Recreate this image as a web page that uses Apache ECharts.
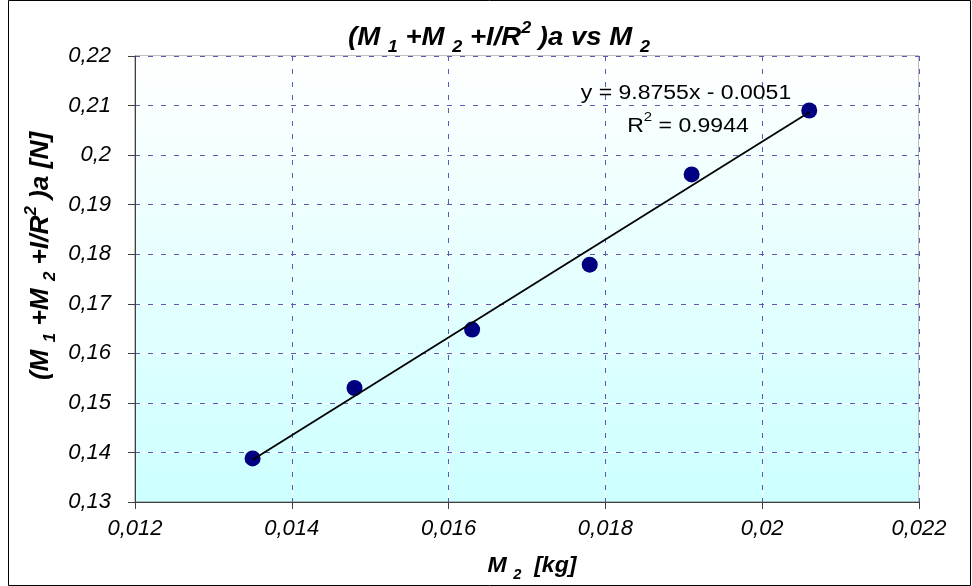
<!DOCTYPE html>
<html><head><meta charset="utf-8">
<script src="https://cdn.jsdelivr.net/npm/echarts@6/dist/echarts.min.js"></script>
<style>html,body{margin:0;padding:0;background:#fff}#c{width:972px;height:586px}</style>
</head><body><div id="c"></div>
<script>
// ---- data ----
const massM2 = [0.0135, 0.0148, 0.0163, 0.0178, 0.0191, 0.0206];          // M2 [kg]
const forceN = [0.1388, 0.1530, 0.1648, 0.1779, 0.1961, 0.2090];          // (M1+M2+I/R^2)a [N]
const xTickLabels = ['0,012', '0,014', '0,016', '0,018', '0,02', '0,022'];
const yTickLabels = ['0,13', '0,14', '0,15', '0,16', '0,17', '0,18', '0,19', '0,2', '0,21', '0,22'];
const trendEquation = 'y = 9.8755x - 0.0051';
const trendR2 = '0.9944';

// ---- chart ----
const X_MIN = 0.012, X_MAX = 0.022, X_INT = 0.002;
const Y_MIN = 0.13, Y_MAX = 0.22, Y_INT = 0.01;
const FONT = '"Liberation Sans", Arial, sans-serif';

// least-squares trendline through the data
const n = massM2.length;
const mx = massM2.reduce((a, b) => a + b, 0) / n;
const my = forceN.reduce((a, b) => a + b, 0) / n;
let sxy = 0, sxx = 0;
for (let i = 0; i < n; i++) { sxy += (massM2[i] - mx) * (forceN[i] - my); sxx += (massM2[i] - mx) ** 2; }
const slope = sxy / sxx, icpt = my - slope * mx;
const xLo = Math.min(...massM2), xHi = Math.max(...massM2);
const trendData = [[xLo, icpt + slope * xLo], [xHi, icpt + slope * xHi]];

const xLab = v => xTickLabels[Math.round((v - X_MIN) / X_INT)] ?? '';
const yLab = v => yTickLabels[Math.round((v - Y_MIN) / Y_INT)] ?? '';

const richBase = (size) => ({
  m: { fontSize: size, fontWeight: 'bold', fontStyle: 'italic', fontFamily: FONT, color: '#000', verticalAlign: 'middle', lineHeight: size + 10 },
  sub: { fontSize: Math.round(size * 0.65), fontWeight: 'bold', fontStyle: 'italic', fontFamily: FONT, color: '#000', verticalAlign: 'bottom', lineHeight: Math.round(size * 0.65) },
  sup: { fontSize: Math.round(size * 0.65), fontWeight: 'bold', fontStyle: 'italic', fontFamily: FONT, color: '#000', verticalAlign: 'top', lineHeight: Math.round(size * 0.65) }
});

const axisCommon = {
  axisLine: { show: true, lineStyle: { color: '#404040', width: 1 } },
  axisTick: { show: true, inside: false, length: 7, lineStyle: { color: '#404040' } },
  splitLine: { show: true, lineStyle: { color: '#5a5ab4', type: [5, 8], width: 1 } }
};
const whiteAxis = {
  show: true, z: 1,
  axisLine: { show: false }, axisTick: { show: false }, axisLabel: { show: false },
  splitLine: { show: true, lineStyle: { color: '#ffffff', type: 'solid', width: 1 } }
};

const chart = echarts.init(document.getElementById('c'), null, { renderer: 'canvas' });
chart.setOption({
  animation: false,
  backgroundColor: '#ffffff',
  grid: {
    left: 135, right: 53, top: 56, bottom: 84, z: 0,
    show: true, borderColor: '#808080', borderWidth: 1,
    backgroundColor: new echarts.graphic.LinearGradient(0, 0, 0, 1, [
      { offset: 0, color: '#ffffff' }, { offset: 1, color: '#ccffff' }
    ])
  },
  xAxis: [
    Object.assign({ type: 'value', min: X_MIN, max: X_MAX, interval: X_INT, z: 2,
      axisLabel: { formatter: xLab, fontFamily: FONT, fontStyle: 'italic', fontSize: 22, color: '#000', margin: 16 } }, axisCommon),
    Object.assign({ type: 'value', min: X_MIN, max: X_MAX, interval: X_INT, position: 'bottom' }, whiteAxis)
  ],
  yAxis: [
    Object.assign({ type: 'value', min: Y_MIN, max: Y_MAX, interval: Y_INT, z: 2,
      axisLabel: { formatter: yLab, fontFamily: FONT, fontStyle: 'italic', fontSize: 22, color: '#000', margin: 24 } }, axisCommon),
    Object.assign({ type: 'value', min: Y_MIN, max: Y_MAX, interval: Y_INT, position: 'left' }, whiteAxis)
  ],
  series: [
    {
      type: 'scatter', name: 'data', z: 3,
      data: massM2.map((x, i) => [x, forceN[i]]),
      symbol: 'circle', symbolSize: 16,
      itemStyle: { color: '#000080', opacity: 1 }
    },
    {
      type: 'line', name: 'trend', z: 4,
      data: trendData, symbol: 'none',
      lineStyle: { color: '#000000', width: 1.8 }
    }
  ],
  graphic: [
    { type: 'rect', silent: true, z: 100,
      shape: { x: 8.5, y: 0.5, width: 962, height: 585 },
      style: { fill: 'none', stroke: '#000', lineWidth: 1 } },
    { type: 'text', z: 100, x: 499, y: 38, scaleX: 1.06,
      style: { text: '{m|(M }{sub|1}{m| +M }{sub|2}{m| +I/R}{sup|2}{m| )a vs M }{sub|2}', rich: richBase(26),
        textAlign: 'center', textVerticalAlign: 'middle' } },
    { type: 'text', z: 100, x: 41, y: 256, rotation: Math.PI / 2, scaleX: 1.05,
      style: { text: '{m|(M }{sub|1}{m| +M }{sub|2}{m| +I/R}{sup|2}{m| )a [N]}', rich: richBase(25),
        textAlign: 'center', textVerticalAlign: 'middle' } },
    { type: 'text', z: 100, x: 532, y: 566, scaleX: 1.05,
      style: { text: '{m|M }{sub|2}{m|  [kg]}', rich: richBase(22),
        textAlign: 'center', textVerticalAlign: 'middle' } },
    { type: 'text', z: 100, x: 686, y: 93, scaleX: 1.15,
      style: { text: trendEquation, fontFamily: FONT, fontSize: 20, fill: '#000',
        textAlign: 'center', textVerticalAlign: 'middle' } },
    { type: 'text', z: 100, x: 688, y: 126, scaleX: 1.15,
      style: { text: '{r|R}{s|2}{r| = ' + trendR2 + '}',
        rich: { r: { fontFamily: FONT, fontSize: 20, color: '#000', verticalAlign: 'middle', lineHeight: 30 },
                s: { fontFamily: FONT, fontSize: 13, color: '#000', verticalAlign: 'top', lineHeight: 13 } },
        textAlign: 'center', textVerticalAlign: 'middle' } }
  ]
});
</script>
</body></html>
